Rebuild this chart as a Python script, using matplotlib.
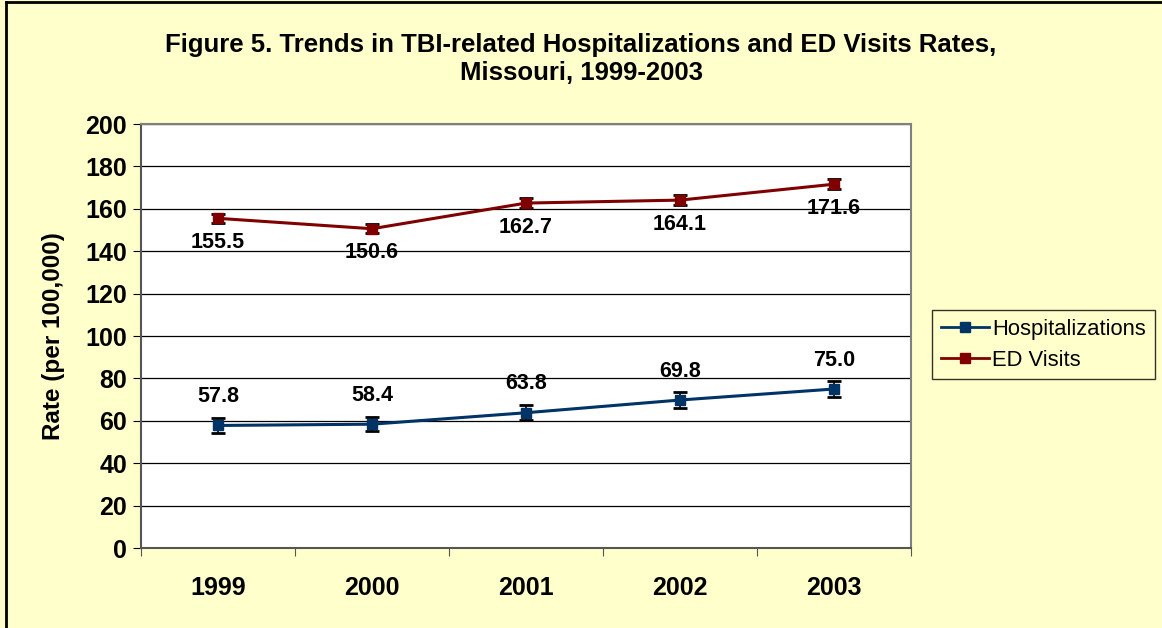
import matplotlib
matplotlib.use("Agg")
import matplotlib.pyplot as plt
from matplotlib.lines import Line2D

years = ["1999", "2000", "2001", "2002", "2003"]
hosp = [57.8, 58.4, 63.8, 69.8, 75.0]
hosp_err = [3.4, 3.4, 3.5, 3.6, 3.7]
ed = [155.5, 150.6, 162.7, 164.1, 171.6]
ed_err = [2.2, 2.2, 2.2, 2.2, 2.3]

BG = "#FFFFCC"
HOSP_C = "#003366"
ED_C = "#800000"

plt.rcParams["font.family"] = ["Liberation Sans", "DejaVu Sans"]

fig = plt.figure(figsize=(11.62, 6.28), dpi=100)
fig.patch.set_facecolor(BG)
ax = fig.add_axes([141 / 1162, 1 - 548 / 628, 770 / 1162, 424 / 628])
ax.set_facecolor("white")

x = list(range(len(years)))
ax.errorbar(x, hosp, yerr=hosp_err, color=HOSP_C, lw=2.2, marker="s", ms=7,
            ecolor="black", elinewidth=1.2, capsize=5, capthick=2, zorder=3)
ax.errorbar(x, ed, yerr=ed_err, color=ED_C, lw=2.2, marker="s", ms=7,
            ecolor="black", elinewidth=1.2, capsize=5, capthick=2, zorder=3)

for xi, v in zip(x, hosp):
    ax.annotate(f"{v:.1f}", (xi, v), xytext=(0, 29), textcoords="offset pixels",
                ha="center", va="center", fontsize=15.5, fontweight="bold")
for xi, v in zip(x, ed):
    ax.annotate(f"{v:.1f}", (xi, v), xytext=(0, -24), textcoords="offset pixels",
                ha="center", va="center", fontsize=15.5, fontweight="bold")

ax.set_xlim(-0.5, len(years) - 0.5)
ax.set_ylim(0, 200)
ax.set_yticks(range(0, 201, 20))
ax.set_xticks([i - 0.5 for i in range(len(years) + 1)])
ax.set_xticklabels([])
ax.set_xticks(x, minor=True)
ax.set_xticklabels(years, minor=True)
ax.tick_params(axis="x", which="minor", length=0, pad=20, labelsize=18)
ax.tick_params(axis="x", which="major", length=6, direction="out", color="#555555")
ax.tick_params(axis="y", length=6, direction="out", labelsize=18, pad=4)
for lab in ax.get_xticklabels(minor=True) + ax.get_yticklabels():
    lab.set_fontweight("bold")

ax.yaxis.grid(True, color="black", lw=0.9)
ax.set_axisbelow(True)
for s in ax.spines.values():
    s.set_color("#808080")
    s.set_linewidth(1.5)
ax.spines["left"].set_color("#555555")
ax.spines["bottom"].set_color("#555555")

ax.set_ylabel("Rate (per 100,000)", fontsize=17.5, fontweight="bold", labelpad=15)

fig.text(0.5, 1 - 59 / 628, "Figure 5. Trends in TBI-related Hospitalizations and ED Visits Rates,\nMissouri, 1999-2003",
         ha="center", va="center", fontsize=18.5, fontweight="bold", linespacing=1.22)

handles = [
    Line2D([], [], color=HOSP_C, lw=2, marker="s", ms=7),
    Line2D([], [], color=ED_C, lw=2, marker="s", ms=7),
]
leg = fig.legend(handles, ["Hospitalizations", "ED Visits"], loc="upper left",
                 bbox_to_anchor=(932 / 1162, 1 - 310 / 628), fontsize=15.8,
                 frameon=True, fancybox=False, edgecolor="black",
                 facecolor=BG, handlelength=2.2, borderpad=0.4, labelspacing=0.45,
                 handletextpad=0.15, borderaxespad=0)
leg.get_frame().set_linewidth(1)

# figure border (top and left visible)
fig.add_artist(Line2D([6 / 1162, 6 / 1162], [0, 1 - 2 / 628], transform=fig.transFigure, color="black", lw=2))
fig.add_artist(Line2D([6 / 1162, 1], [1 - 2 / 628, 1 - 2 / 628], transform=fig.transFigure, color="black", lw=2))

fig.savefig("out.png", dpi=100, facecolor=fig.get_facecolor())
